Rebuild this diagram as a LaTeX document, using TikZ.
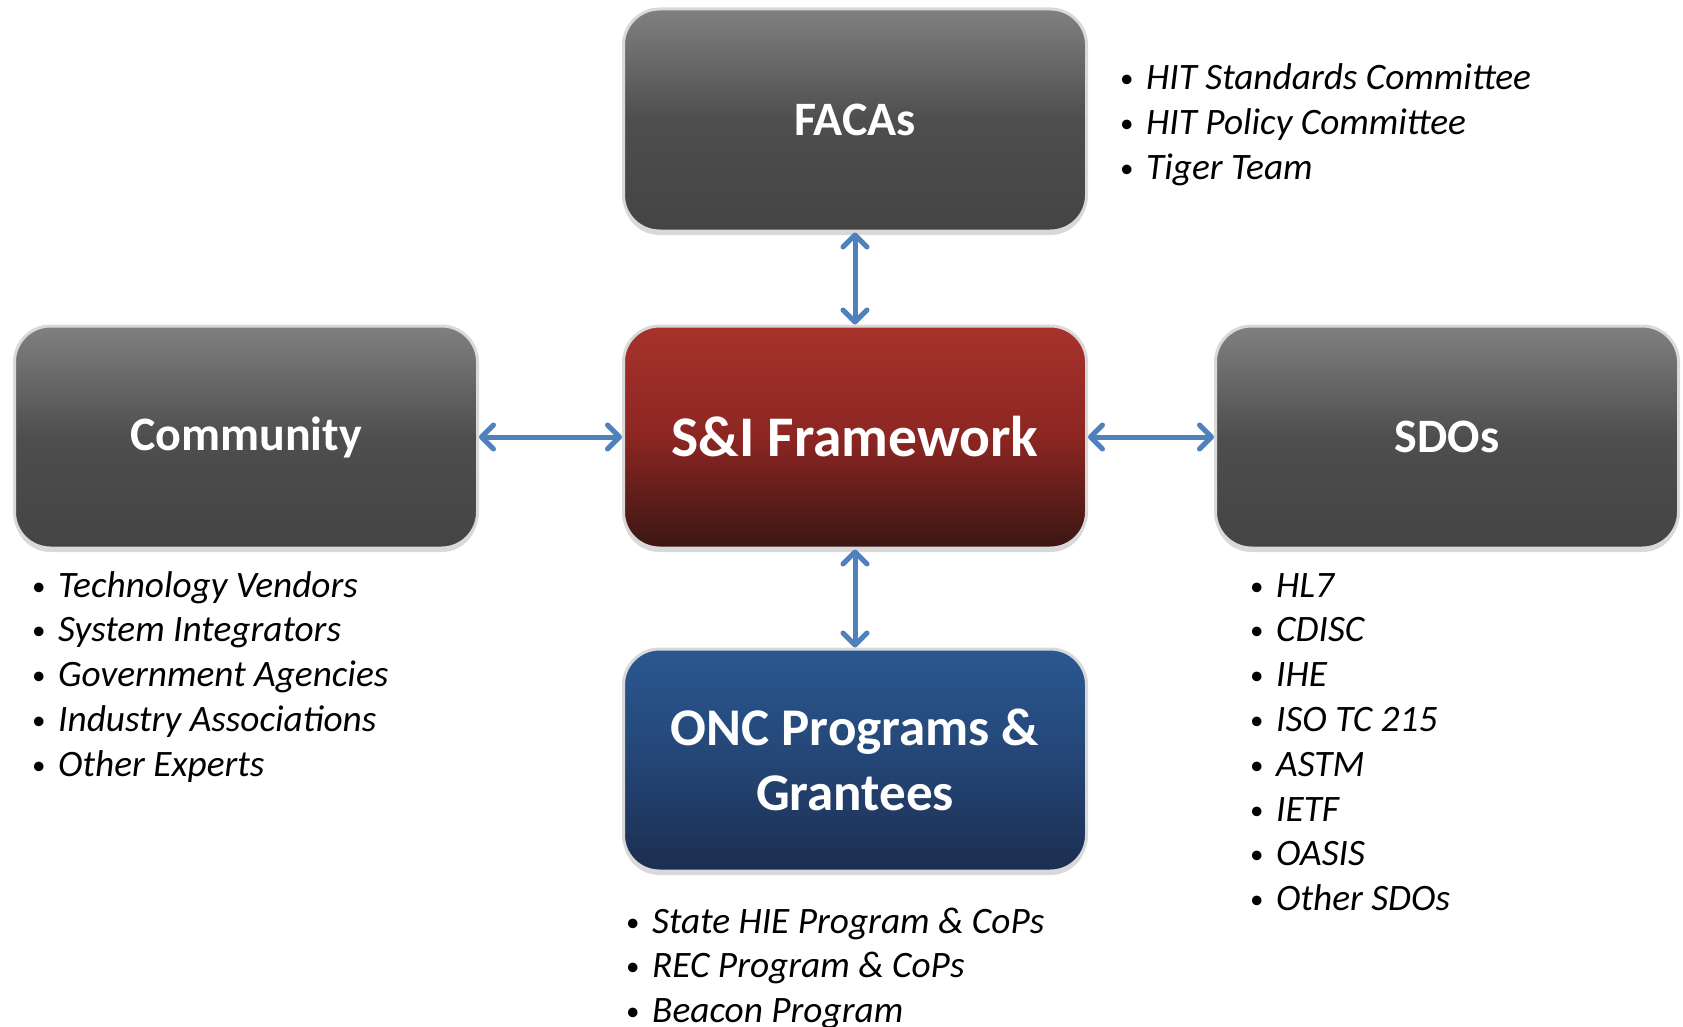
\documentclass[tikz,border=0pt]{standalone}
\usepackage{fontspec}
\setmainfont{Carlito}
\usepackage{tikz}
\usetikzlibrary{arrows.meta,shadows}
\definecolor{linkblue}{RGB}{79,129,189}
\definecolor{grtop}{RGB}{128,128,128}
\definecolor{grmid}{RGB}{78,78,78}
\definecolor{grbot}{RGB}{68,68,68}
\definecolor{rdtop}{RGB}{168,50,44}
\definecolor{rdmid}{RGB}{140,38,34}
\definecolor{rdbot}{RGB}{58,22,20}
\definecolor{bltop}{RGB}{42,88,145}
\definecolor{blmid}{RGB}{36,70,118}
\definecolor{blbot}{RGB}{28,45,80}
\newcommand{\bl}{\makebox[26pt][l]{\upshape\fontsize{27}{27}\selectfont\raisebox{2pt}{\textbullet}}}
\tikzset{
    box/.style={rounded corners=36pt, minimum width=463pt, minimum height=222pt,
        draw=gray!30, line width=3pt, text=white, align=center,
        font=\fontsize{48}{58}\selectfont\bfseries,
        drop shadow={shadow xshift=0pt, shadow yshift=-4pt, opacity=0.3}},
    graybox/.style={box, top color=grtop, bottom color=grbot, middle color=grmid},
    redbox/.style={box, top color=rdtop, bottom color=rdbot, middle color=rdmid,
        font=\fontsize{57.5}{68}\selectfont\bfseries},
    bluebox/.style={box, top color=bltop, bottom color=blbot, middle color=blmid,
        font=\fontsize{53}{65}\selectfont\bfseries},
    link/.style={line width=5pt, draw=linkblue,
        {Straight Barb[length=12pt,width=24pt,round]}-{Straight Barb[length=12pt,width=24pt,round]}},
    item/.style={anchor=base west, inner sep=0pt, font=\fontsize{37.3}{45}\selectfont\itshape},
}
\begin{document}
\begin{tikzpicture}[x=1pt,y=-1pt]
        \useasboundingbox (0,0) rectangle (1683,1027);

        \node[graybox] (facas) at (855,120) {FACAs};
        \node[redbox] (sif) at (855,437) {S\&I Framework};
        \node[graybox] (community) at (246,437) {Community};
        \node[graybox] (sdos) at (1447,437) {SDOs};
        \node[bluebox] (onc) at (855,760) {ONC Programs \&\\Grantees};

        \draw[link] (facas) -- (sif);
        \draw[link] (community) -- (sif);
        \draw[link] (sif) -- (sdos);
        \draw[link] (sif) -- (onc);

        \foreach \t [count=\i] in {HIT Standards Committee, HIT Policy Committee, Tiger Team}
            \node[item] (faca\i) at (1120,{90+45*(\i-1)}) {\bl\t};
        \foreach \t [count=\i] in {Technology Vendors, System Integrators, Government Agencies, Industry Associations, Other Experts}
            \node[item] (comm\i) at (32,{597+44.8*(\i-1)}) {\bl\t};
        \foreach \t [count=\i] in {HL7, CDISC, IHE, ISO TC 215, ASTM, IETF, OASIS, Other SDOs}
            \node[item] (sdo\i) at (1250,{597+44.8*(\i-1)}) {\bl\t};
        \foreach \t [count=\i] in {State HIE Program \& CoPs, REC Program \& CoPs, Beacon Program}
            \node[item] (onc\i) at (626,{933+44.8*(\i-1)}) {\bl\t};
\end{tikzpicture}
\end{document}
